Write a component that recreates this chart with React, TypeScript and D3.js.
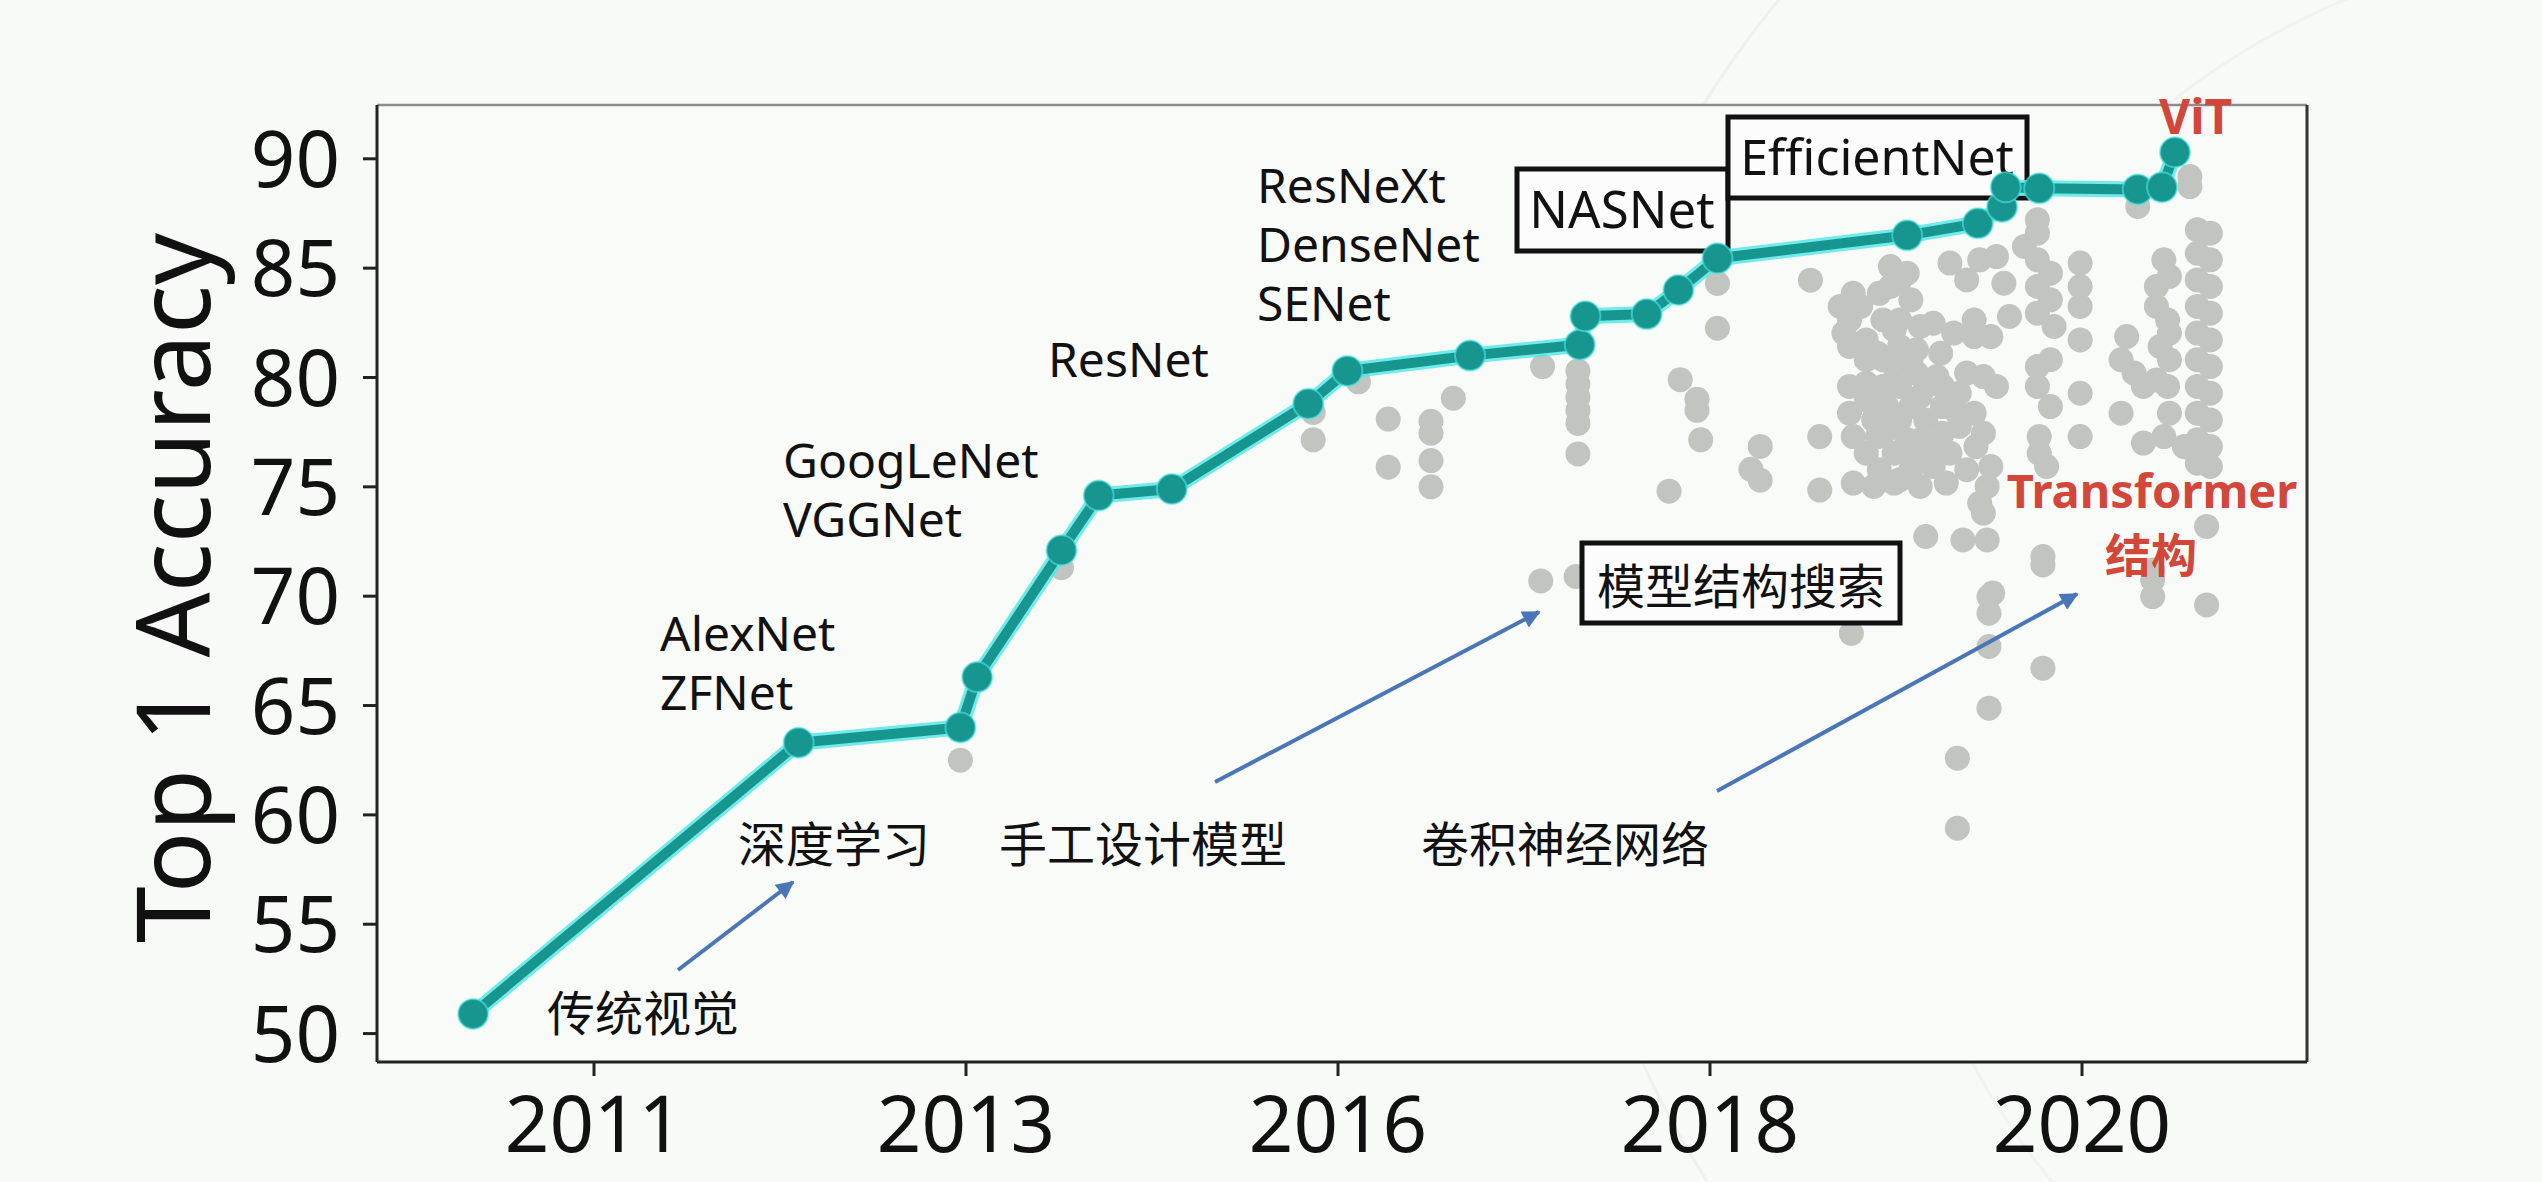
import React from 'react';
import * as d3 from 'd3';

// ---------- data ----------
const xTickYears = [2011, 2013, 2016, 2018, 2020];
const xTickLabels = ['2011', '2013', '2016', '2018', '2020'];
const yTicks = [50, 55, 60, 65, 70, 75, 80, 85, 90];

// state-of-the-art frontier (teal line)
const sotaYear = [2010.35, 2012.1, 2012.97, 2013.09, 2013.77, 2014.07, 2014.66, 2015.76, 2016.05, 2016.71, 2017.3, 2017.33, 2017.66, 2017.83, 2018.04, 2019.06, 2019.44, 2019.57, 2019.59, 2019.77, 2020.3, 2020.43, 2020.5];
const sotaAcc = [50.9, 63.3, 64.0, 66.3, 72.1, 74.6, 74.9, 78.8, 80.3, 81.0, 81.5, 82.8, 82.9, 84.0, 85.45, 86.5, 87.05, 87.8, 88.7, 88.65, 88.6, 88.7, 90.3];

// other models (grey dots) [year, accuracy]
const otherModels: [number, number][] = [
  [2012.97, 62.5], [2013.77, 71.3], [2015.8, 78.4], [2015.8, 77.15], [2016.11, 79.8], [2016.27, 78.1], [2016.27, 75.9],
  [2016.5, 78.0], [2016.5, 77.45], [2016.5, 76.2], [2016.5, 75.0], [2016.62, 79.05], [2017.1, 80.5], [2017.29, 80.3],
  [2017.29, 79.7], [2017.29, 79.1], [2017.29, 78.5], [2017.29, 77.9], [2017.29, 76.5], [2017.09, 70.7], [2017.28, 70.9],
  [2017.84, 79.9], [2017.78, 74.8], [2018.04, 84.3], [2018.04, 82.25], [2017.93, 79.0], [2017.93, 78.5], [2017.95, 77.15],
  [2018.54, 84.45], [2018.27, 76.85], [2018.22, 75.8], [2018.27, 75.3], [2018.59, 77.3], [2018.59, 74.85], [2018.76, 68.3],
  // 2018.7 - 2019.5 cluster
  [2018.97, 85.07], [2019.02, 84.46], [2018.91, 83.85], [2019.08, 83.55], [2018.77, 83.85], [2018.75, 82.63], [2019.02, 82.63],
  [2019.2, 82.48], [2019.29, 85.23], [2019.38, 84.46], [2019.42, 82.63], [2019.42, 81.87], [2018.75, 81.42], [2018.84, 81.72],
  [2019.02, 81.42], [2018.93, 80.81], [2019.11, 80.2], [2019.22, 80.04], [2018.75, 79.59], [2018.84, 79.74], [2018.93, 79.59],
  [2019.02, 79.59], [2018.95, 78.67], [2019.13, 79.13], [2019.25, 78.67], [2019.34, 79.28], [2018.75, 78.37], [2018.88, 78.06],
  [2019.02, 78.06], [2019.16, 78.06], [2019.34, 77.76], [2018.9, 77.3], [2019.13, 77.15], [2019.2, 76.69], [2018.99, 76.54],
  [2018.91, 75.78], [2019.08, 75.78], [2019.2, 75.93], [2018.77, 75.17], [2018.88, 75.02], [2019.02, 75.32], [2019.38, 75.78],
  [2019.16, 72.73], [2019.36, 72.57], [2019.45, 74.25], [2019.45, 85.38], [2018.84, 80.81], [2019.11, 81.27], [2018.99, 82.18],
  [2019.24, 81.11], [2019.33, 78.37],
  [2018.7, 83.25], [2018.81, 83.25], [2018.72, 82.03], [2018.9, 81.11], [2018.99, 80.5], [2019.08, 80.81], [2019.16, 79.59],
  [2019.08, 78.67], [2018.84, 78.98], [2018.95, 77.6], [2019.06, 77.15], [2019.25, 77.45], [2019.42, 78.37], [2019.43, 76.84],
  [2019.29, 76.54], [2019.11, 76.39], [2018.84, 76.54], [2018.77, 77.3], [2018.99, 75.17], [2019.13, 75.02], [2019.27, 75.17],
  [2019.25, 79.59], [2019.38, 80.2], [2019.31, 82.03], [2019.13, 82.33], [2018.93, 82.63], [2019.06, 84.77], [2018.97, 84.16],
  // 2019.5 - 2020.7
  [2020.58, 89.19], [2020.58, 88.73], [2020.3, 87.82], [2019.76, 87.21], [2019.76, 86.6],
  [2020.62, 86.75], [2020.69, 86.6], [2020.62, 85.68], [2020.69, 85.38], [2020.62, 84.46], [2020.69, 84.16], [2020.62, 83.25],
  [2020.69, 82.94], [2020.62, 82.03], [2020.69, 81.72], [2020.62, 80.81], [2020.69, 80.5], [2020.62, 79.59], [2020.69, 79.28],
  [2020.62, 78.37], [2020.69, 78.06], [2020.62, 77.15], [2020.69, 76.84], [2020.62, 76.08], [2020.69, 75.93],
  [2020.44, 85.38], [2020.47, 84.62], [2020.4, 83.25], [2020.46, 82.63], [2020.42, 81.42], [2020.47, 80.81], [2020.46, 79.59],
  [2020.47, 78.37], [2020.44, 77.3], [2020.55, 76.84], [2020.4, 84.16], [2020.47, 82.03],
  [2020.24, 81.87], [2020.21, 80.81], [2020.28, 80.2], [2020.33, 79.59], [2020.21, 78.37], [2020.33, 77.0], [2020.4, 79.89],
  [2019.69, 85.99], [2019.76, 85.38], [2019.83, 84.77], [2019.76, 84.16], [2019.83, 83.55], [2019.76, 82.94], [2019.85, 82.33],
  [2019.83, 80.81], [2019.76, 80.5], [2019.76, 79.59], [2019.83, 78.67], [2019.77, 77.3], [2019.77, 76.54], [2019.81, 75.93],
  [2019.99, 85.23], [2019.99, 84.16], [2019.99, 83.25], [2019.99, 81.72], [2019.99, 79.28], [2019.99, 77.3],
  [2019.54, 85.53], [2019.58, 84.31], [2019.61, 82.79], [2019.51, 81.87], [2019.47, 80.04], [2019.54, 79.59], [2019.47, 77.45],
  [2019.51, 75.93], [2019.49, 75.02], [2019.47, 73.8], [2019.49, 72.57], [2019.79, 71.81], [2019.52, 70.14], [2020.67, 73.19],
  [2020.38, 71.2],
  // lower stragglers
  [2019.5, 69.98], [2019.5, 69.22], [2019.5, 67.7], [2019.79, 71.43], [2019.79, 66.71], [2019.5, 64.88], [2019.33, 62.59],
  [2019.33, 59.39], [2020.38, 70.75], [2020.38, 69.98], [2020.67, 69.6],
];

const modelLabels = [
  { lines: ['AlexNet', 'ZFNet'], x: 660, y: 651 },
  { lines: ['GoogLeNet', 'VGGNet'], x: 783, y: 478 },
  { lines: ['ResNet'], x: 1048, y: 377 },
  { lines: ['ResNeXt', 'DenseNet', 'SENet'], x: 1257, y: 203 },
];

const eraLabels = [
  { text: '传统视觉', x: 547, y: 1010 },
  { text: '深度学习', x: 738, y: 841 },
  { text: '手工设计模型', x: 999, y: 841 },
  { text: '卷积神经网络', x: 1421, y: 841 },
];

const arrows = [
  [678, 970, 793, 882],
  [1215, 782, 1539, 612],
  [1717, 791, 2077, 594],
];

const LATIN = "'Noto Sans', 'Noto Sans CJK SC', sans-serif";
const CJK = "'Noto Sans CJK SC', 'Noto Sans', sans-serif";

export default function App() {
  const W = 2542, H = 1182;
  const left = 377, right = 2307, top = 105, bottom = 1062;
  const tickStart = left + 217, tickStep = 372;

  const x = d3.scaleLinear()
    .domain(xTickYears)
    .range(xTickYears.map((_, i) => tickStart + i * tickStep));
  const y = d3.scaleLinear().domain([48.7, 92.46]).range([bottom, top]);

  const line = d3.line<number>()
    .x((_, i) => x(sotaYear[i]))
    .y((d) => y(d));
  const path = line(sotaAcc) || '';

  const teal = '#17958f';
  const glow = '#4ee6e6';
  const red = '#d2473a';
  const blue = '#4a76b6';

  return (
    <svg width={W} height={H} style={{ position: 'absolute', left: 0, top: 0, display: 'block' }}
      xmlns="http://www.w3.org/2000/svg">
      <defs>
        <marker id="ah" viewBox="0 0 10 10" refX="9" refY="5" markerWidth="22" markerHeight="18"
          markerUnits="userSpaceOnUse" orient="auto">
          <path d="M0,0 L10,5 L0,10 z" fill={blue} />
        </marker>
      </defs>
      <rect x={0} y={0} width={W} height={H} fill="#f7faf6" />
      {/* faint decorative arcs */}
      <circle cx={2560} cy={640} r={1010} fill="none" stroke="#eef2ee" strokeWidth={3} />
      <circle cx={2640} cy={700} r={760} fill="none" stroke="#f0f3f0" strokeWidth={3} />

      {/* plot area */}
      <rect x={left} y={top} width={right - left} height={bottom - top} fill="#f9fbf8" />

      {/* grey scatter */}
      <g>
        {otherModels.map(([yr, acc], i) => (
          <circle key={i} cx={x(yr)} cy={y(acc)} r={12.5} fill="#c2c4c0" />
        ))}
      </g>

      {/* boxed labels */}
      <g>
        <rect x={1517} y={169} width={211} height={82} fill="#fbfcfb" stroke="#111" strokeWidth={5} />
        <text x={1622} y={228} fontFamily={LATIN} fontSize={51} textAnchor="middle" fill="#111">NASNet</text>
        <rect x={1728} y={117} width={299} height={81} fill="#fbfcfb" stroke="#111" strokeWidth={5} />
        <text x={1877} y={175} fontFamily={LATIN} fontSize={50} textAnchor="middle" fill="#111">EfficientNet</text>
        <rect x={1582} y={543} width={318} height={80} fill="#fbfcfb" stroke="#111" strokeWidth={5} />
        <text x={1741} y={583} fontFamily={CJK} fontSize={48} textAnchor="middle" dominantBaseline="central" fill="#111">模型结构搜索</text>
      </g>

      {/* SOTA line */}
      <path d={path} fill="none" stroke={glow} strokeWidth={16} strokeLinejoin="round" strokeLinecap="round" opacity={0.8} />
      <path d={path} fill="none" stroke={teal} strokeWidth={10} strokeLinejoin="round" strokeLinecap="round" />
      {sotaAcc.map((a, i) => (
        <circle key={i} cx={x(sotaYear[i])} cy={y(a)} r={15} fill={teal} stroke={glow} strokeOpacity={0.6} strokeWidth={2} />
      ))}

      {/* spines */}
      <line x1={left} y1={top} x2={right} y2={top} stroke="#8c8c8c" strokeWidth={2.5} />
      <line x1={right} y1={top} x2={right} y2={bottom} stroke="#333" strokeWidth={3} />
      <line x1={left} y1={top} x2={left} y2={bottom} stroke="#222" strokeWidth={3} />
      <line x1={left} y1={bottom} x2={right} y2={bottom} stroke="#222" strokeWidth={3} />

      {/* y axis */}
      {yTicks.map((t) => (
        <g key={t}>
          <line x1={left - 14} x2={left} y1={y(t)} y2={y(t)} stroke="#222" strokeWidth={3} />
          <text x={340} y={y(t)} dy="0.36em" textAnchor="end" fontFamily={LATIN} fontSize={78} fill="#111">{t}</text>
        </g>
      ))}
      {/* x axis */}
      {xTickYears.map((t, i) => (
        <g key={t}>
          <line x1={x(t)} x2={x(t)} y1={bottom} y2={bottom + 14} stroke="#222" strokeWidth={3} />
          <text x={x(t)} y={1152} textAnchor="middle" fontFamily={LATIN} fontSize={78} fill="#111">{xTickLabels[i]}</text>
        </g>
      ))}
      <text transform="translate(210,588) rotate(-90)" textAnchor="middle" fontFamily={LATIN} fontSize={102} fill="#111">Top 1 Accuracy</text>

      {/* model name labels */}
      {modelLabels.map((m, i) => (
        <g key={i}>
          {m.lines.map((l, j) => (
            <text key={j} x={m.x} y={m.y + j * 59} fontFamily={LATIN} fontSize={48} fill="#111">{l}</text>
          ))}
        </g>
      ))}

      {/* era labels */}
      {eraLabels.map((e, i) => (
        <text key={i} x={e.x} y={e.y} dominantBaseline="central" fontFamily={CJK} fontSize={48} fill="#111">{e.text}</text>
      ))}

      {/* arrows */}
      {arrows.map(([x1, y1, x2, y2], i) => (
        <line key={i} x1={x1} y1={y1} x2={x2} y2={y2} stroke={blue} strokeWidth={4} markerEnd="url(#ah)" />
      ))}

      {/* red annotations */}
      <text x={2159} y={134} fontFamily={LATIN} fontWeight="bold" fontSize={48} fill={red}>ViT</text>
      <text x={2152} y={508} textAnchor="middle" fontFamily={LATIN} fontWeight="bold" fontSize={47} fill={red}>Transformer</text>
      <text x={2151} y={552} textAnchor="middle" dominantBaseline="central" fontFamily={CJK} fontWeight="bold" fontSize={46} fill={red}>结构</text>
    </svg>
  );
}
